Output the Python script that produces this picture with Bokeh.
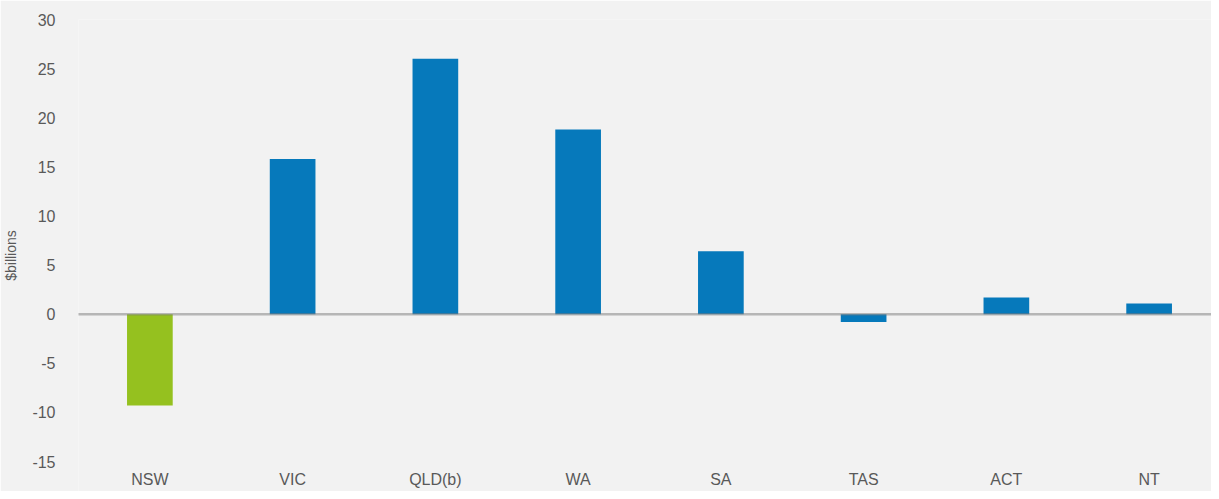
from bokeh.plotting import figure
from bokeh.models import ColumnDataSource, Range1d, FixedTicker, Span
from bokeh.core.properties import value
from bokeh.embed import file_html
from bokeh.resources import INLINE

states = ["NSW", "VIC", "QLD(b)", "WA", "SA", "TAS", "ACT", "NT"]
values = [-9.3, 15.8, 26.0, 18.8, 6.4, -0.8, 1.7, 1.1]
colors = ["#95c11f", "#0679bb", "#0679bb", "#0679bb", "#0679bb", "#0679bb", "#0679bb", "#0679bb"]
y_ticks = [-15, -10, -5, 0, 5, 10, 15, 20, 25, 30]

xs = list(range(len(states)))
src = ColumnDataSource(dict(x=xs, top=values, color=colors))
lab = ColumnDataSource(dict(x=xs, y=[-16.0] * len(xs), text=states))

p = figure(width=1211, height=491, output_backend="svg", toolbar_location=None,
           x_range=Range1d(-0.5, 7.437), y_range=Range1d(-18.05, 30),
           x_axis_location=None,
           min_border_top=19, min_border_bottom=0, min_border_left=72, min_border_right=0)
p.background_fill_color = "#f2f2f2"
p.border_fill_color = "#f2f2f2"
p.outline_line_color = None
p.grid.visible = False

p.vbar(x="x", top="top", bottom=0, width=0.32, fill_color="color", line_color=None, source=src)

zero = Span(location=0, dimension="width", line_color="#7a7a7a", line_width=2.5, line_dash="1 1")
p.add_layout(zero)

font = "Liberation Sans"
grey = "#595959"

p.text(x="x", y="y", text="text", source=lab, text_font=value(font), text_font_size="16px",
       text_color=grey, text_align="center", text_baseline="top")

p.yaxis.ticker = FixedTicker(ticks=y_ticks)
p.yaxis.major_label_overrides = {t: str(t) for t in y_ticks}
p.yaxis.axis_line_color = None
p.yaxis.major_tick_line_color = None
p.yaxis.minor_tick_line_color = None
p.yaxis.major_label_standoff = 17
p.yaxis.major_label_text_font = font
p.yaxis.major_label_text_font_size = "16px"
p.yaxis.major_label_text_color = grey
p.yaxis.axis_label = "$billions"
p.yaxis.axis_label_text_font = font
p.yaxis.axis_label_text_font_style = "normal"
p.yaxis.axis_label_text_font_size = "14px"
p.yaxis.axis_label_text_color = grey
p.yaxis.axis_label_standoff = 10

open("out.html", "w").write(file_html(p, INLINE))
